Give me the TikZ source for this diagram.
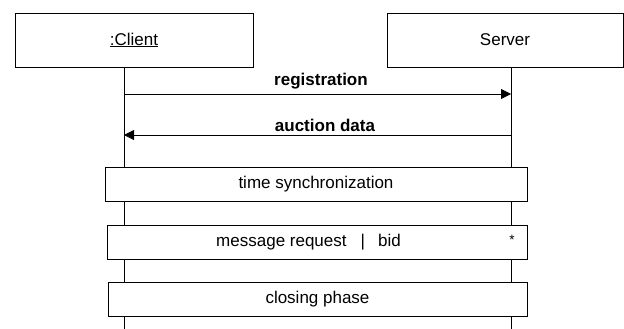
\documentclass[tikz,border=0pt]{standalone}
\usepackage{fontspec}
\setmainfont{Liberation Sans}
\usetikzlibrary{arrows.meta}
\begin{document}
\begin{tikzpicture}[x=1pt,y=-1pt,
  every node/.style={font=\fontsize{17}{20}\selectfont, inner sep=0pt},
  objbox/.style={draw, line width=0.8pt, fill=white, minimum height=54pt},
  fragbox/.style={draw, line width=0.8pt, fill=white, minimum height=34pt},
  lifeline/.style={line width=0.8pt},
  msg/.style={line width=0.8pt, -{Triangle[length=10pt,width=10pt]}},
  msglabel/.style={font=\fontsize{17}{20}\selectfont\bfseries, anchor=base}]
\useasboundingbox (0,0) rectangle (624,329);
% objects
\node[objbox, minimum width=238pt] (client) at (134,40) {\underline{:Client}};
\node[objbox, minimum width=236pt] (server) at (505,40) {Server};
% lifelines
\coordinate (ctop) at (124,67);
\coordinate (cbot) at (124,329);
\coordinate (stop) at (511,67);
\coordinate (sbot) at (511,329);
\draw[lifeline] (ctop) -- (cbot);
\draw[lifeline] (stop) -- (sbot);
% messages
\coordinate (creg) at (124,94);
\coordinate (sreg) at (511,94);
\coordinate (cauc) at (124,135);
\coordinate (sauc) at (511,135);
\draw[msg] (creg) -- (sreg);
\draw[msg] (sauc) -- (cauc);
\node[msglabel] (lreg) at (321,85) {registration};
\node[msglabel] (lauc) at (325,131) {auction data};
% fragments
\node[fragbox, minimum width=422pt] (sync) at (316,184) {time synchronization};
\node[fragbox, minimum width=420pt] (bid) at (317,242) {};
\node (bidtext) at (308.5,242) {message request\hspace{14pt}|\hspace{13pt}bid};
\node[font=\fontsize{13.5}{15}\selectfont] (star) at (512,239.5) {*};
\node[fragbox, minimum width=419pt] (close) at (317.5,299) {closing phase};
\end{tikzpicture}
\end{document}
